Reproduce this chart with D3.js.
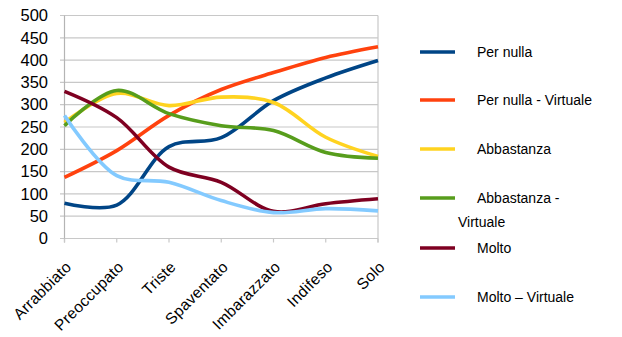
<!DOCTYPE html>
<html><head><meta charset="utf-8">
<script src="https://cdn.jsdelivr.net/npm/d3@7"></script>
<style>body{margin:0;background:#fff}svg{display:block}text{font-family:"Liberation Sans",Arial,sans-serif;fill:#000}</style>
</head><body><svg id="c" width="622" height="337"></svg>
<script>
const categories = ["Arrabbiato","Preoccupato","Triste","Spaventato","Imbarazzato","Indifeso","Solo"];
const seriesNames = ["Per nulla","Per nulla - Virtuale","Abbastanza","Abbastanza - Virtuale","Molto","Molto – Virtuale"];
const perNulla = [79, 75, 206, 226, 309, 360, 399];
const perNullaVirtuale = [137, 197, 276, 334, 372, 406, 430];
const abbastanza = [260, 325, 298, 317, 305, 227, 184];
const abbastanzaVirtuale = [253, 332, 280, 253, 242, 193, 180];
const molto = [330, 271, 160, 126, 61, 78, 89];
const moltoVirtuale = [276, 141, 126, 85, 58, 67, 62];
const yTicks = [0,50,100,150,200,250,300,350,400,450,500];
const colors = ["#004586","#ff420e","#ffd320","#579d1c","#7e0021","#83caff"];
const allSeries = [perNulla, perNullaVirtuale, abbastanza, abbastanzaVirtuale, molto, moltoVirtuale];

const svg = d3.select("#c");
const x = d3.scalePoint().domain(categories).range([64.5, 378]);
const y = d3.scaleLinear().domain([0,500]).range([238.5, 15.5]);

// grid
svg.append("g").selectAll("line").data(yTicks).join("line")
  .attr("x1",60).attr("x2",378).attr("y1",d=>y(d)).attr("y2",d=>y(d))
  .attr("stroke","#c8c8c8").attr("stroke-width",1.2);
svg.append("line").attr("x1",378).attr("x2",378).attr("y1",y(500)).attr("y2",y(0)+4)
  .attr("stroke","#c8c8c8").attr("stroke-width",1.2);
svg.append("line").attr("x1",64.5).attr("x2",64.5).attr("y1",y(500)).attr("y2",y(0)+4)
  .attr("stroke","#b4b4b4").attr("stroke-width",1.2);
// x ticks
svg.append("g").selectAll("line").data(categories).join("line")
  .attr("x1",d=>x(d)).attr("x2",d=>x(d)).attr("y1",y(0)).attr("y2",y(0)+4)
  .attr("stroke","#c8c8c8").attr("stroke-width",1.2);

// y labels
svg.append("g").selectAll("text").data(yTicks).join("text")
  .attr("x",48).attr("y",d=>y(d)).attr("dy","0.35em").attr("text-anchor","end")
  .style("font-size","16.5px").text(d=>d);

// x labels
svg.append("g").selectAll("text").data(categories).join("text")
  .attr("transform",d=>`translate(${x(d)+4},${264}) rotate(-45)`)
  .attr("text-anchor","end").attr("dy","0.35em")
  .style("font-size","15.5px").style("letter-spacing","0.3px").text(d=>d);

// lines
const line = d3.line().x((d,i)=>x(categories[i])).y(d=>y(d)).curve(d3.curveCatmullRom.alpha(0.5));
svg.append("g").selectAll("path").data(allSeries).join("path")
  .attr("d",d=>line(d)).attr("fill","none")
  .attr("stroke",(d,i)=>colors[i]).attr("stroke-width",3.6)
  .attr("stroke-linejoin","round");

// legend
const legY = [52,100,149,198,248,297];
const lg = svg.append("g");
lg.selectAll("line").data(seriesNames).join("line")
  .attr("x1",420).attr("x2",455).attr("y1",(d,i)=>legY[i]).attr("y2",(d,i)=>legY[i])
  .attr("stroke",(d,i)=>colors[i]).attr("stroke-width",3.6);
lg.selectAll("text").data(seriesNames).join("text")
  .attr("x",477).attr("y",(d,i)=>legY[i]).attr("dy","0.35em")
  .style("font-size","14px")
  .each(function(d){
    const t = d3.select(this);
    if (d === "Abbastanza - Virtuale") {
      t.append("tspan").text("Abbastanza -");
      t.append("tspan").attr("x",458).attr("dy","1.7em").text("Virtuale");
    } else t.text(d);
  });
</script></body></html>
